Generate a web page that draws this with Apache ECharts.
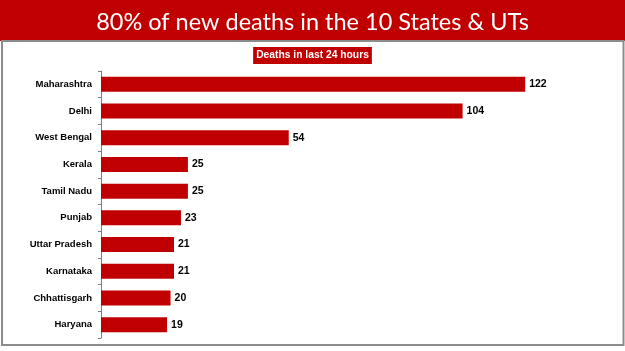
<!DOCTYPE html>
<html>
<head>
<meta charset="utf-8">
<script src="https://cdn.jsdelivr.net/npm/echarts@6/dist/echarts.min.js"></script>
<style>
html,body{margin:0;padding:0;background:#fff;}
#c{width:625px;height:351px;}
</style>
</head>
<body>
<div id="c"></div>
<script>
var categories = ["Maharashtra","Delhi","West Bengal","Kerala","Tamil Nadu","Punjab","Uttar Pradesh","Karnataka","Chhattisgarh","Haryana"];
var deaths = [122,104,54,25,25,23,21,21,20,19];
var titleText = "80% of new deaths in the 10 States & UTs";
var subtitleText = "Deaths in last 24 hours";

var chart = echarts.init(document.getElementById('c'), null, {renderer:'canvas'});
var RED = '#C00000';
chart.setOption({
  animation:false,
  backgroundColor:'#fff',
  graphic:[
    {type:'rect', left:0, top:0, shape:{width:625, height:41}, style:{fill:RED}, z:0},
    {type:'rect', shape:{x:2, y:41, width:621.5, height:304}, style:{fill:'none', stroke:'#8c8c8c', lineWidth:2}, z:0}
  ],
  title:[
    {text:titleText, left:'center', top:5, textStyle:{color:'#fff', fontFamily:'Lato', fontWeight:'normal', fontSize:23.5}},
    {text:subtitleText, left:'center', top:47, backgroundColor:RED, padding:[3,3,3,3],
     textStyle:{color:'#fff', fontFamily:'Liberation Sans', fontWeight:'bold', fontSize:10.3, lineHeight:11}}
  ],
  grid:{left:101, top:71, height:267, width:452},
  xAxis:{type:'value', min:0, max:130, show:false},
  yAxis:{type:'category', data:categories, inverse:true,
    axisLine:{lineStyle:{color:'#7f7f7f', width:1}},
    axisTick:{show:true, length:3, lineStyle:{color:'#7f7f7f'}},
    axisLabel:{color:'#000', fontFamily:'Liberation Sans', fontWeight:'bold', fontSize:9.5, margin:9},
    splitLine:{show:false}
  },
  series:[{type:'bar', data:deaths, barWidth:15, itemStyle:{color:RED},
    label:{show:true, position:'right', distance:4, color:'#000', fontFamily:'Liberation Sans', fontWeight:'bold', fontSize:10.5}
  }]
});
</script>
</body>
</html>
